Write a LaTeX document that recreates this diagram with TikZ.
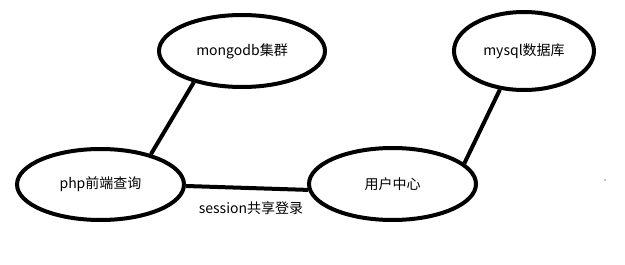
\documentclass[tikz,border=0pt]{standalone}
\usepackage{fontspec}
\setmainfont{Noto Sans CJK SC}
\usetikzlibrary{shapes.geometric}
\begin{document}
\begin{tikzpicture}[x=1pt,y=-1pt,
  oval/.style={ellipse,draw,line width=4pt,inner sep=0pt,font=\fontsize{14}{16}\selectfont},
  link/.style={line width=4pt},
  lbl/.style={font=\fontsize{14}{16}\selectfont}]
  \useasboundingbox (0,0) rectangle (625,265);
  % services
  \node[oval,minimum width=166,minimum height=72] (mongo) at (242,51) {mongodb集群};
  \node[oval,minimum width=140,minimum height=78] (mysql) at (524,51) {mysql数据库};
  \node[oval,minimum width=167,minimum height=71] (php) at (100.5,184.5) {php前端查询};
  \node[oval,minimum width=167,minimum height=72] (user) at (392.5,184) {用户中心};
  % connections
  \draw[link] (php.31) -- (mongo.213);
  \draw[link] (user.16) -- (mysql.238);
  \draw[link] (php.-1) -- (user.184);
  \node[lbl] (sess) at (251,208) {session共享登录};
  % stray dot
  \fill (605,180) circle (0.7);
\end{tikzpicture}
\end{document}
